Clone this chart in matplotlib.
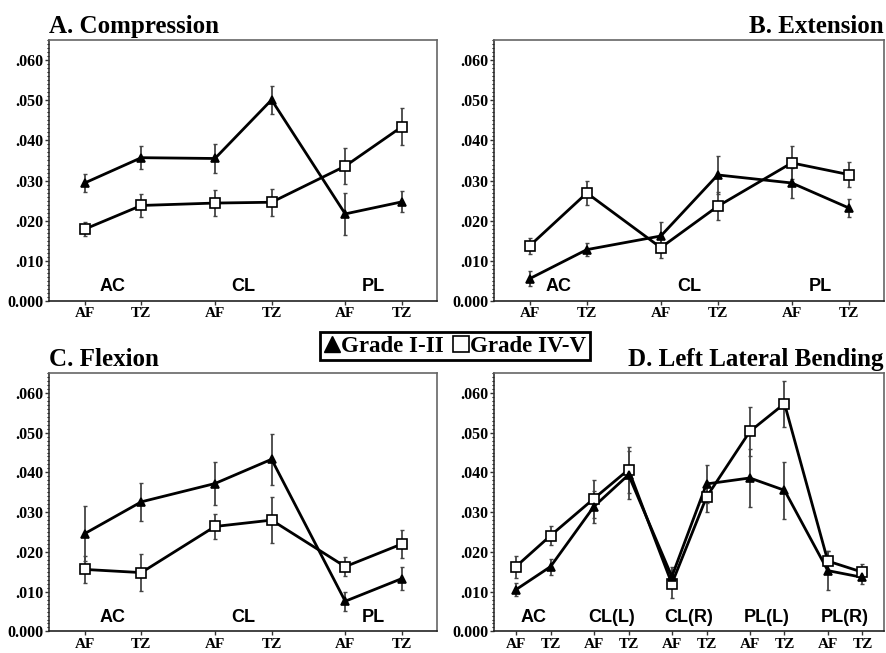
import matplotlib
matplotlib.use('Agg')
import matplotlib.pyplot as plt
import numpy as np
from matplotlib.lines import Line2D
from matplotlib.ticker import MultipleLocator, FixedLocator

plt.rcParams['font.family'] = ['Liberation Serif', 'DejaVu Serif']

# strain values, mean and error (Grade I-II = g12, Grade IV-V = g45)
pos_ax = ['AF', 'TZ', 'AF', 'TZ', 'AF', 'TZ']
regions_3 = ['AC', 'CL', 'PL']

comp_g12 = [0.0294, 0.0357, 0.0355, 0.0501, 0.0217, 0.0247]
comp_g12_err = [0.0023, 0.0028, 0.0037, 0.0035, 0.0052, 0.0026]
comp_g45 = [0.0179, 0.0238, 0.0244, 0.0246, 0.0336, 0.0434]
comp_g45_err = [0.0017, 0.0029, 0.0032, 0.0033, 0.0045, 0.0046]

ext_g12 = [0.0056, 0.0128, 0.0162, 0.0314, 0.0294, 0.0232]
ext_g12_err = [0.0019, 0.0016, 0.0036, 0.0047, 0.0037, 0.0023]
ext_g45 = [0.0138, 0.0269, 0.0133, 0.0236, 0.0344, 0.0315]
ext_g45_err = [0.0020, 0.0030, 0.0027, 0.0035, 0.0041, 0.0032]

flex_g12 = [0.0246, 0.0326, 0.0372, 0.0433, 0.0076, 0.0133]
flex_g12_err = [0.0070, 0.0048, 0.0053, 0.0064, 0.0024, 0.0030]
flex_g45 = [0.0156, 0.0148, 0.0264, 0.0280, 0.0163, 0.0220]
flex_g45_err = [0.0033, 0.0047, 0.0032, 0.0058, 0.0024, 0.0035]

regions_5 = ['AC', 'CL(L)', 'CL(R)', 'PL(L)', 'PL(R)']
llb_g12 = [0.0105, 0.0163, 0.0314, 0.0394, 0.0138, 0.0371, 0.0386, 0.0355, 0.0153, 0.0136]
llb_g12_err = [0.0017, 0.0020, 0.0040, 0.0060, 0.0025, 0.0047, 0.0072, 0.0072, 0.0050, 0.0017]
llb_g45 = [0.0163, 0.0241, 0.0334, 0.0407, 0.0120, 0.0338, 0.0503, 0.0573, 0.0177, 0.0149]
llb_g45_err = [0.0028, 0.0023, 0.0048, 0.0058, 0.0035, 0.0038, 0.0062, 0.0058, 0.0025, 0.0020]

W, H = 886, 653
fig = plt.figure(figsize=(W / 100, H / 100), dpi=100)


def xpos(n_groups, step):
    return np.concatenate([[g * step, g * step + 1] for g in range(n_groups)])


def panel(rect, title, title_left, g12, e12, g45, e45, regions, step):
    ax = fig.add_axes(rect)
    x = xpos(len(regions), step)
    ticklabels = ['AF', 'TZ'] * len(regions)
    for y, e, mk, fc, ms in [(g45, e45, 's', 'white', 7.2),
                             (g12, e12, '^', 'black', 5.5)]:
        ax.errorbar(x, y, yerr=e, fmt='none', ecolor='#444444',
                    elinewidth=1.3, capsize=1.5, capthick=1, zorder=2)
        ax.plot(x, y, color='black', lw=2, zorder=3)
        ax.plot(x, y, ls='none', marker=mk, mfc=fc, mec='black', mew=1.2,
                ms=ms, zorder=4)
    for g, name in enumerate(regions):
        ax.text(g * step + 0.5, 0.0035, name, ha='center', va='center',
                fontsize=13, fontweight='bold', family='Liberation Sans')
    ax.set_xlim(-0.63, x[-1] + 0.62)
    ax.set_ylim(0, 0.065)
    ax.set_xticks(x)
    ax.set_xticklabels(ticklabels)
    ax.yaxis.set_major_locator(FixedLocator([0, 0.01, 0.02, 0.03, 0.04, 0.05, 0.06]))
    ax.set_yticklabels(['0.000', '.010', '.020', '.030', '.040', '.050', '.060'])
    ax.yaxis.set_minor_locator(MultipleLocator(0.001))
    ax.tick_params(axis='both', width=1, color='#333333')
    ax.tick_params(axis='y', which='major', length=3, pad=1, labelsize=11.5)
    ax.tick_params(axis='y', which='minor', length=1.5, width=0.8)
    ax.tick_params(axis='x', length=3, pad=1.5, labelsize=11)
    for lab in ax.get_xticklabels() + ax.get_yticklabels():
        lab.set_fontweight('bold')
    for s in ax.spines.values():
        s.set_color('#666666')
        s.set_linewidth(1.2)
    ax.spines['bottom'].set_color('#222222')
    ax.spines['left'].set_color('#333333')
    ty = 1 + 7 / (rect[3] * H)
    if title_left:
        ax.text(0, ty, title, transform=ax.transAxes, ha='left', va='baseline',
                fontsize=18, fontweight='bold')
    else:
        ax.text(1, ty, title, transform=ax.transAxes, ha='right', va='baseline',
                fontsize=18, fontweight='bold')
    return ax


top_b, top_h = 0.539, 0.3997
bot_b, bot_h = 0.033, 0.3958
left_l, left_w = 0.0553, 0.4379
right_l, right_w = 0.5576, 0.4401

panel([left_l, top_b, left_w, top_h], 'A. Compression', True,
      comp_g12, comp_g12_err, comp_g45, comp_g45_err, regions_3, 2.3)
panel([right_l, top_b, right_w, top_h], 'B. Extension', False,
      ext_g12, ext_g12_err, ext_g45, ext_g45_err, regions_3, 2.3)
panel([left_l, bot_b, left_w, bot_h], 'C. Flexion', True,
      flex_g12, flex_g12_err, flex_g45, flex_g45_err, regions_3, 2.3)
panel([right_l, bot_b, right_w, bot_h], 'D. Left Lateral Bending', False,
      llb_g12, llb_g12_err, llb_g45, llb_g45_err, regions_5, 2.25)

handles = [Line2D([], [], ls='none', marker='^', mfc='black', mec='black', ms=11),
           Line2D([], [], ls='none', marker='s', mfc='white', mec='black', mew=1.2, ms=12)]
leg = fig.legend(handles, ['Grade I-II', 'Grade IV-V'], ncol=2,
                 loc='center', bbox_to_anchor=(455 / W, 1 - 346 / H),
                 prop={'family': 'Liberation Serif', 'weight': 'bold', 'size': 16.5},
                 handlelength=0.7, handletextpad=0.05, columnspacing=0.4,
                 borderpad=0.15, borderaxespad=0, fancybox=False,
                 edgecolor='black', framealpha=1)
leg.get_frame().set_linewidth(2)

fig.savefig('out.png', dpi=100)
